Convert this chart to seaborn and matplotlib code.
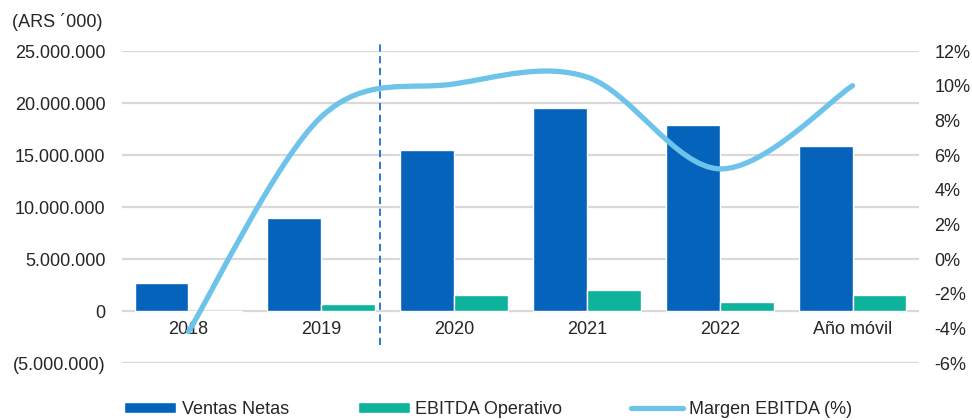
import numpy as np
import pandas as pd
import seaborn as sns
import matplotlib.pyplot as plt
from matplotlib.path import Path
from matplotlib.patches import PathPatch, Patch
from matplotlib.lines import Line2D
from matplotlib.ticker import FuncFormatter, MultipleLocator

# data
categorias = ['2018', '2019', '2020', '2021', '2022', 'Año móvil']
ventas_netas = [2_700_000, 8_950_000, 15_500_000, 19_500_000, 17_900_000, 15_900_000]
ebitda_operativo = [-50_000, 670_000, 1_540_000, 2_000_000, 870_000, 1_540_000]
margen_ebitda = [-4.2, 8.2, 10.1, 10.5, 5.2, 10.0]

C_VENTAS = '#0563BB'
C_EBITDA = '#0DB39B'
C_MARGEN = '#6EC3EA'
C_GRID = '#D9D9D9'
C_SEP = '#1F6FC5'

sns.set_style('white')
plt.rcParams['font.family'] = ['Liberation Sans', 'DejaVu Sans']
FS = 13

df = pd.DataFrame({
    'cat': categorias * 2,
    'valor': ventas_netas + ebitda_operativo,
    'serie': ['Ventas Netas'] * 6 + ['EBITDA Operativo'] * 6,
})

fig = plt.figure(figsize=(9.72, 4.2), dpi=100)
ax = fig.add_axes([122 / 972, 57 / 420, 797 / 972, 312 / 420])

sns.barplot(data=df, x='cat', y='valor', hue='serie', palette=[C_VENTAS, C_EBITDA],
            width=0.81, saturation=1, ax=ax, legend=False, errorbar=None)

ax.set_xlim(-0.5, 5.5)
ax.set_ylim(-5_000_000, 25_000_000)
ax.yaxis.set_major_locator(MultipleLocator(5_000_000))
ax.grid(axis='y', color=C_GRID, lw=1.6)
ax.set_axisbelow(True)


def miles(v, _):
    s = f"{abs(v):,.0f}".replace(',', '.')
    return f"({s})" if v < 0 else s


ax.yaxis.set_major_formatter(FuncFormatter(miles))
for sp in ax.spines.values():
    sp.set_visible(False)
ax.spines['bottom'].set_position(('data', 0))
ax.tick_params(axis='y', length=0, pad=12, labelsize=FS)
ax.tick_params(axis='x', length=0, pad=7, labelsize=FS)
ax.set_xlabel('')
ax.set_ylabel('')

# separator between historical and current periods
ax.plot([1.445, 1.445], [-3_270_000, 26_060_000], color=C_SEP, lw=1.3,
        ls=(0, (4, 2.5)), clip_on=False, zorder=5)

# secondary axis: EBITDA margin as a smoothed line (Excel-style bezier)
ax2 = ax.twinx()
ax2.set_ylim(-6, 12)
ax2.yaxis.set_major_locator(MultipleLocator(2))
ax2.yaxis.set_major_formatter(FuncFormatter(lambda v, _: f"{v:.0f}%"))
ax2.tick_params(axis='y', length=0, pad=11, labelsize=FS)
for sp in ax2.spines.values():
    sp.set_visible(False)

xs = np.arange(len(margen_ebitda), dtype=float)
pts = np.column_stack([xs, margen_ebitda])
verts = [pts[0]]
codes = [Path.MOVETO]
n = len(pts)
for i in range(n - 1):
    p0 = pts[max(i - 1, 0)]
    p1 = pts[i]
    p2 = pts[i + 1]
    p3 = pts[min(i + 2, n - 1)]
    verts += [p1 + (p2 - p0) / 6, p2 - (p3 - p1) / 6, p2]
    codes += [Path.CURVE4] * 3
ax2.add_patch(PathPatch(Path(verts, codes), fill=False, edgecolor=C_MARGEN,
                        lw=3.8, capstyle='round', joinstyle='round', zorder=4))

fig.text(12 / 972, 1 - 22 / 420, "(ARS \u00b4000)", fontsize=FS, va='center', ha='left')

handles = [
    Patch(facecolor=C_VENTAS, label='Ventas Netas'),
    Patch(facecolor=C_EBITDA, label='EBITDA Operativo'),
    Line2D([], [], color=C_MARGEN, lw=3.8, solid_capstyle='round', label='Margen EBITDA (%)'),
]
fig.legend(handles=handles, loc='center left', bbox_to_anchor=(124 / 972, 11 / 420),
           ncol=3, frameon=False, fontsize=FS, handlelength=2.9, handleheight=0.55,
           handletextpad=0.3, columnspacing=3.8, borderpad=0, borderaxespad=0)

fig.savefig('out.png', dpi=100)
